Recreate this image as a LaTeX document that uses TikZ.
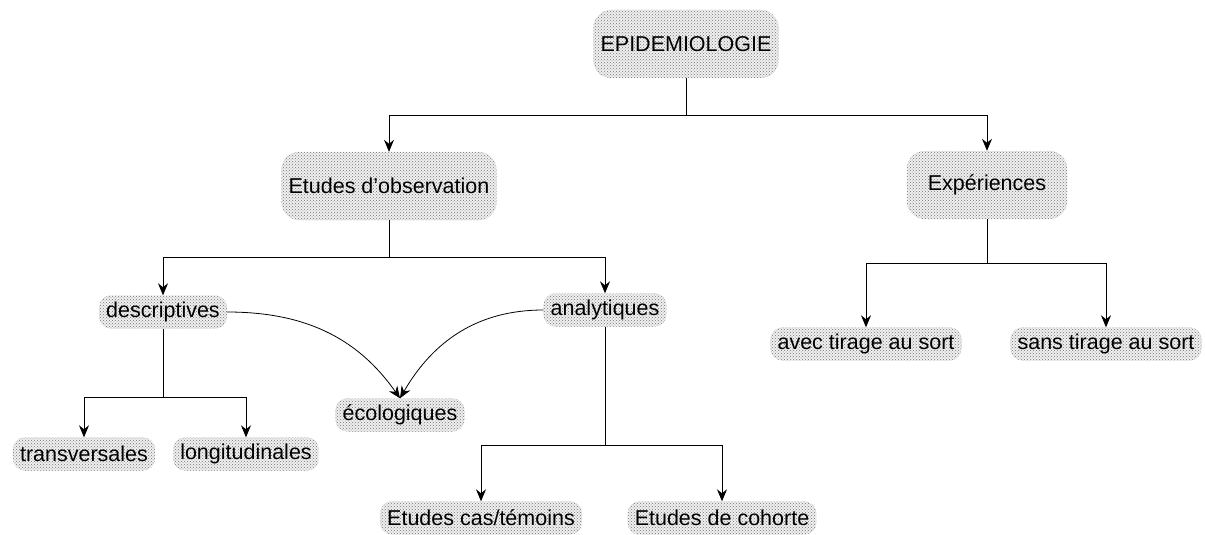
\documentclass[tikz,border=0pt]{standalone}
\usepackage{fontspec}
\setmainfont{Liberation Sans}
\usetikzlibrary{arrows.meta,patterns}
\begin{document}
\begin{tikzpicture}[x=1pt,y=-1pt,
   box/.style={rounded corners=12pt, preaction={fill=gray!12}, pattern=crosshatch dots,
      pattern color=black!55, draw=gray!60, densely dotted, inner xsep=7pt, minimum height=33pt,
      font=\fontsize{21.5}{24}\selectfont},
   bigbox/.style={box, rounded corners=18pt, minimum height=68pt, minimum width=160pt},
   link/.style={-{Stealth[length=12pt,width=10pt,inset=4pt]}, line width=0.8pt},
   stem/.style={line width=0.8pt}]
\useasboundingbox (0,0) rectangle (1205,535);
\node[bigbox] (epi) at (686,44) {EPIDEMIOLOGIE};
\node[bigbox] (obs) at (389,186) {Etudes d’observation};
\node[bigbox] (exp) at (987,185) {Expériences};
\node[box] (desc) at (163,312) {descriptives};
\node[box] (ana) at (605,310) {analytiques};
\node[box] (avec) at (866,344) {avec tirage au sort};
\node[box] (sans) at (1106,344) {sans tirage au sort};
\node[box] (eco) at (400,415) {écologiques};
\node[box] (trans) at (84,454) {transversales};
\node[box] (longi) at (246,454) {longitudinales};
\node[box] (cas) at (481,518) {Etudes cas/témoins};
\node[box] (coh) at (722,518) {Etudes de cohorte};
% branching points
\coordinate (epij) at (686,115);
\coordinate (obsj) at (389,257);
\coordinate (expj) at (987,263);
\coordinate (descj) at (163,397);
\coordinate (anaj) at (605,445);
\draw[stem] (epi) -- (epij);
\draw[link] (epij) -| (obs);
\draw[link] (epij) -| (exp);
\draw[stem] (obs) -- (obsj);
\draw[link] (obsj) -| (desc);
\draw[link] (obsj) -| (ana);
\draw[stem] (exp) -- (expj);
\draw[link] (expj) -| (avec);
\draw[link] (expj) -| (sans);
\draw[stem] (desc) -- (descj);
\draw[link] (descj) -| (trans);
\draw[link] (descj) -| (longi);
\draw[stem] (ana) -- (anaj);
\draw[link] (anaj) -| (cas);
\draw[link] (anaj) -| (coh);
\draw[link] (desc.east) to[out=0, in=125] (eco.north);
\draw[link] (ana.west) to[out=180, in=60] (eco.north);
\end{tikzpicture}
\end{document}
